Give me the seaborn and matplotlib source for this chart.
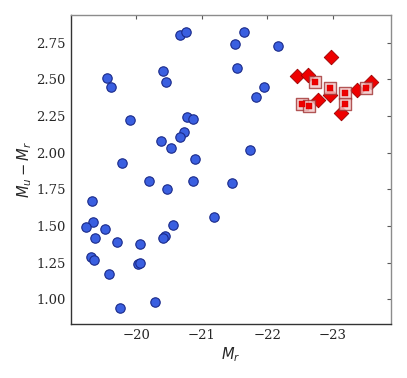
import numpy as np
import pandas as pd
import seaborn as sns
import matplotlib
matplotlib.use('Agg')
import matplotlib.pyplot as plt

# blue sample (circles)
blue_mr = [-20.67, -20.76, -21.51, -21.64, -21.54, -19.55, -19.62, -20.40, -20.46,
           -21.83, -21.95, -22.17, -19.91, -20.77, -20.86, -20.73, -20.66, -20.38,
           -20.53, -21.74, -20.90, -19.78, -20.20, -20.87, -21.46, -20.47, -19.33,
           -19.34, -19.23, -19.52, -19.37, -21.19, -20.56, -20.44, -20.40, -19.71,
           -20.05, -19.31, -19.35, -20.03, -20.05, -19.58, -20.28, -19.75]
blue_ur = [2.80, 2.82, 2.74, 2.82, 2.58, 2.51, 2.45, 2.56, 2.48,
           2.38, 2.45, 2.73, 2.22, 2.24, 2.23, 2.14, 2.11, 2.08,
           2.03, 2.02, 1.96, 1.93, 1.81, 1.81, 1.79, 1.75, 1.67,
           1.53, 1.49, 1.48, 1.42, 1.56, 1.51, 1.43, 1.42, 1.39,
           1.38, 1.29, 1.27, 1.24, 1.25, 1.17, 0.98, 0.94]

# red diamonds
dia_mr = [-22.97, -22.46, -22.62, -22.77, -22.96, -23.37, -23.59, -23.12]
dia_ur = [2.65, 2.52, 2.53, 2.36, 2.39, 2.43, 2.48, 2.27]

# red boxed squares
sq_mr = [-22.73, -22.95, -23.18, -23.51, -22.53, -22.64, -23.18]
sq_ur = [2.48, 2.44, 2.41, 2.44, 2.33, 2.32, 2.33]

blue = pd.DataFrame({'Mr': blue_mr, 'ur': blue_ur})
dia = pd.DataFrame({'Mr': dia_mr, 'ur': dia_ur})
sq = pd.DataFrame({'Mr': sq_mr, 'ur': sq_ur})

sns.set_style('white')
plt.rcParams['font.family'] = ['DejaVu Serif']
plt.rcParams['mathtext.fontset'] = 'dejavusans'

fig = plt.figure(figsize=(4.07, 3.78), dpi=100)
ax = fig.add_axes([0.174, 0.142, 0.787, 0.817])

sns.scatterplot(data=blue, x='Mr', y='ur', ax=ax, marker='o', s=46,
                color='#3a5fe0', edgecolor='#1a2a8a', linewidth=0.8, zorder=3)
sns.scatterplot(data=dia, x='Mr', y='ur', ax=ax, marker='D', s=55,
                color='#ee0000', edgecolor='#990000', linewidth=0.6, zorder=4)
# boxed squares: pale frame plus small solid square
sns.scatterplot(data=sq, x='Mr', y='ur', ax=ax, marker='s', s=72,
                color='#f2c8c8', edgecolor='#a03030', linewidth=1.0, alpha=0.8, zorder=5)
sns.scatterplot(data=sq, x='Mr', y='ur', ax=ax, marker='s', s=20,
                color='#ee0000', edgecolor='#cc0000', linewidth=0.3, zorder=6)

ax.set_xlim(-19.0, -23.89)
ax.set_ylim(0.83, 2.935)
ax.set_xticks([-20, -21, -22, -23])
ax.set_yticks([1.0, 1.25, 1.5, 1.75, 2.0, 2.25, 2.5, 2.75])
ax.set_xticklabels(['\u221220', '\u221221', '\u221222', '\u221223'])
ax.set_yticklabels(['1.00', '1.25', '1.50', '1.75', '2.00', '2.25', '2.50', '2.75'])
ax.tick_params(direction='in', length=3, width=0.8, top=True, right=True,
               labelsize=9.5, colors='0.15')
ax.tick_params(axis='both', which='both', color='0.35')

for side in ['left', 'bottom']:
    ax.spines[side].set_color('0.2')
    ax.spines[side].set_linewidth(1.0)
for side in ['top', 'right']:
    ax.spines[side].set_color('0.55')
    ax.spines[side].set_linewidth(1.0)

ax.set_xlabel('$M_r$', fontsize=10.5, labelpad=2)
ax.set_ylabel('$M_u - M_r$', fontsize=10.5, labelpad=2)

plt.savefig('out.png', dpi=100)
